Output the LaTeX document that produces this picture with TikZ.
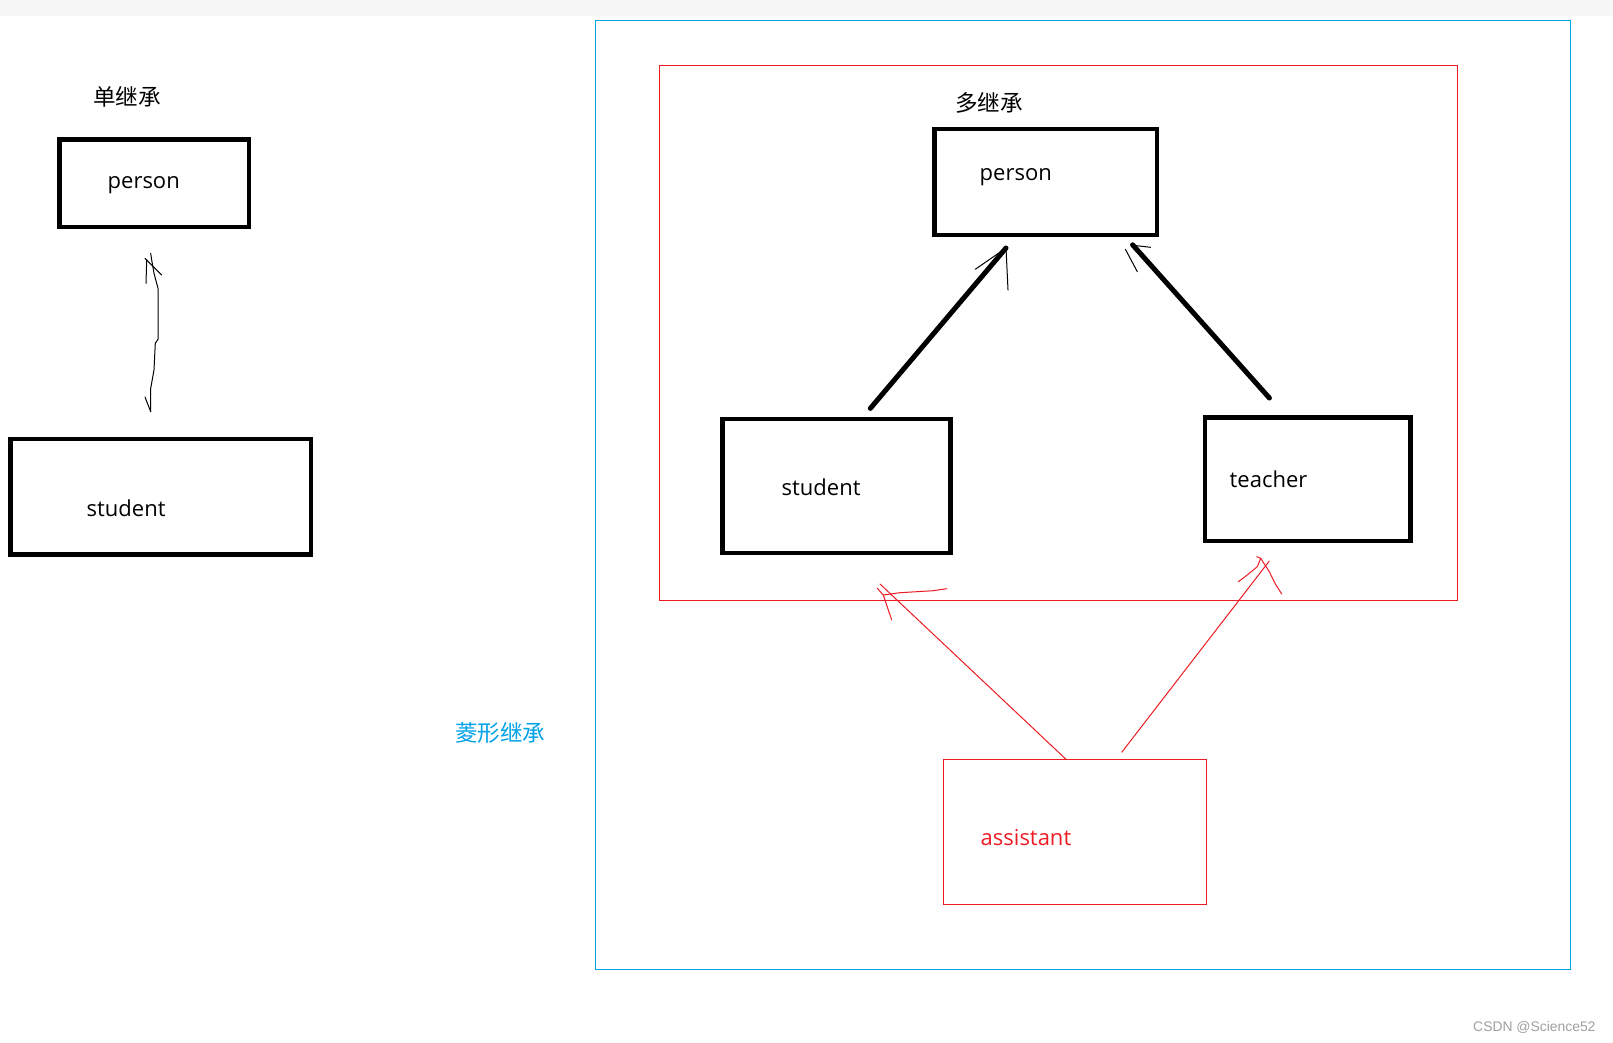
\documentclass[tikz,border=0pt]{standalone}
\usepackage{fontspec}
\setmainfont{Open Sans}
\newfontfamily\cjk{Noto Sans CJK SC}
\newfontfamily\wmfont{Liberation Sans}
\definecolor{paintred}{HTML}{ED1C24}
\definecolor{paintblue}{HTML}{00A2E8}
\definecolor{bandgray}{HTML}{F7F7F7}
\definecolor{wmgray}{HTML}{A0A0A0}
\begin{document}
\begin{tikzpicture}[x=1pt,y=-1pt,
  blackbox/.style={draw=black, line width=4.5pt, inner sep=0pt, outer sep=0pt},
  redbox/.style={draw=paintred, line width=1pt, inner sep=0pt, outer sep=0pt},
  bluebox/.style={draw=paintblue, line width=1pt, inner sep=0pt, outer sep=0pt},
  txt/.style={inner sep=0pt, anchor=base west, font=\fontsize{22}{26}\selectfont},
  cjktxt/.style={inner sep=0pt, font=\cjk\fontsize{22.6}{26}\selectfont},
  thickline/.style={line width=5pt, line cap=round},
  sketch/.style={line width=1pt, line join=round, line cap=round}]
\useasboundingbox (0,0) rectangle (1613,1042);
\fill[white] (0,0) rectangle (1613,1042);
\fill[bandgray] (0,0) rectangle (1613,16);

% ---------- single inheritance ----------
\node[cjktxt] (tSingle) at (127,97) {单继承};
\node[blackbox, minimum width=189.5pt, minimum height=87.5pt] (pL) at (154.3,183.3) {};
\node[txt] (pLt) at (107.5,188) {person};
\node[blackbox, minimum width=300.5pt, minimum height=115.5pt] (sL) at (160.8,496.7) {};
\node[txt] (sLt) at (86.5,516.7) {student};

\coordinate (aLtail) at (150.7,411.7);
\coordinate (aLhead) at (150.7,253.3);
\draw[sketch] (aLtail) -- (150.7,388.3) -- (154,370) -- (155.3,343.3) -- (158,339.3)
  -- (158,288.3) -- (154,273.3) -- (151.7,260) -- (aLhead);
\draw[sketch] (145,258.3) -- (146.7,260) -- (146,283.3);
\draw[sketch] (146.7,260) -- (161.7,275);
\draw[sketch] (145,397) -- (aLtail);

% ---------- frames ----------
\node[bluebox, minimum width=974.5pt, minimum height=948.5pt] (blueFrame) at (1082.8,494.8) {};
\node[redbox, minimum width=798pt, minimum height=535pt] (redFrame) at (1058.5,332.5) {};
\node[cjktxt, text=paintblue] (tDiamond) at (500.3,732.5) {菱形继承};

% ---------- multiple inheritance ----------
\node[cjktxt] (tMulti) at (989,103) {多继承};
\node[blackbox, minimum width=222.1pt, minimum height=106.1pt] (pM) at (1045.7,182) {};
\node[txt] (pMt) at (979.5,180) {person};
\node[blackbox, minimum width=227.7pt, minimum height=133.8pt] (sM) at (836.5,485.9) {};
\node[txt] (sMt) at (781.5,495) {student};
\node[blackbox, minimum width=205.7pt, minimum height=123.5pt] (tM) at (1307.7,479.3) {};
\node[txt] (tMt) at (1229.5,487) {teacher};

\coordinate (sMtop) at (870.3,408.4);
\coordinate (pMleft) at (1006,248);
\coordinate (tMtop) at (1269.4,398);
\coordinate (pMright) at (1132.6,244.8);
\draw[thickline] (sMtop) -- (pMleft);
\draw[thickline] (tMtop) -- (pMright);
\draw[sketch] (975.3,269.3) -- (pMleft) -- (1008,290);
\draw[sketch] (1130.7,245) -- (1150.5,247.3);
\draw[sketch] (1125.4,249.3) -- (1137.3,271.7);

% ---------- assistant ----------
\node[redbox, minimum width=263pt, minimum height=145pt] (aM) at (1075.3,832.3) {};
\node[txt, text=paintred] (aMt) at (980.5,845) {assistant};

\coordinate (aMleft) at (1066,759.3);
\coordinate (aMright) at (1121.7,752.3);
\coordinate (sMhead) at (880,584);
\coordinate (tMhead) at (1269.3,561);
\draw[sketch, paintred] (aMleft) -- (sMhead);
\draw[sketch, paintred] (aMright) -- (tMhead);
\draw[sketch, paintred] (877.3,588.3) -- (883.3,595) -- (891.7,620);
\draw[sketch, paintred] (883.3,595) -- (900,592.7) -- (933.3,590.7) -- (946.7,588.7);
\draw[sketch, paintred] (1238.3,581.7) -- (1245,576.7) -- (1257.3,566.7) -- (1260.7,558.3) -- (1256.7,556.7);
\draw[sketch, paintred] (1260.7,558.3) -- (1269.3,571.7) -- (1275,583.3) -- (1281.7,594);

% ---------- watermark ----------
\node[inner sep=0pt, anchor=base west, text=wmgray, font=\wmfont\fontsize{13.9}{16}\selectfont] (wm) at (1473,1031.7) {CSDN @Science52};
\end{tikzpicture}
\end{document}
